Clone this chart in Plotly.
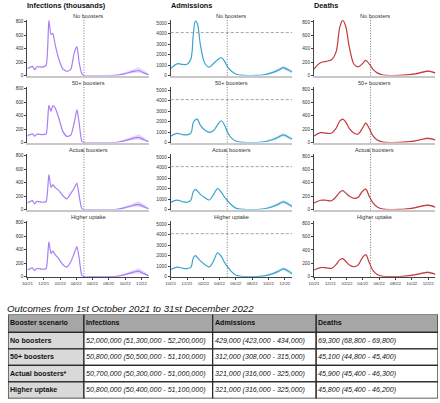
import plotly.graph_objects as go

W, H = 440, 403

# ---------------- data ----------------
scenarios = ["No boosters", "50+ boosters", "Actual boosters", "Higher uptake"]
measure_titles = ["Infections (thousands)", "Admissions", "Deaths"]
projection_start = "2022-04-30"
admissions_capacity = 4100

x_tickvals = ["2021-10-01", "2021-12-01", "2022-02-01", "2022-04-01",
              "2022-06-01", "2022-08-01", "2022-10-01", "2022-12-01"]
x_ticktext = ["10/21", "12/21", "02/22", "04/22", "06/22", "08/22", "10/22", "12/22"]
x_range = ["2021-10-01", "2022-12-28"]

inf_dates = ["2021-10-01", "2021-10-20", "2021-10-28", "2021-11-05", "2021-11-25", "2021-12-10",
             "2021-12-20", "2021-12-28", "2022-01-04", "2022-01-12", "2022-01-25", "2022-02-10",
             "2022-02-25", "2022-03-12", "2022-03-25", "2022-04-04", "2022-04-12", "2022-04-22",
             "2022-04-30", "2022-06-01", "2022-08-01", "2022-09-01", "2022-10-01", "2022-11-01",
             "2022-11-20", "2022-12-10", "2022-12-28"]
inf_none = [102, 136, 88, 130, 125, 150, 820, 610, 625, 470, 260, 100, 62, 90, 340, 430, 200, 30, 0,
            0, 0, 5, 28, 62, 75, 40, 12]
inf_50 = [100, 128, 95, 125, 118, 130, 551, 465, 545, 520, 380, 170, 92, 110, 300, 490, 300, 20, 0,
          0, 0, 5, 28, 65, 78, 42, 12]
inf_actual = [99, 133, 84, 123, 109, 120, 519, 331, 370, 330, 290, 210, 160, 240, 320, 395, 210, 15, 0,
              0, 0, 5, 30, 65, 78, 42, 12]
inf_higher = [98, 130, 90, 120, 110, 120, 515, 343, 378, 330, 270, 180, 140, 220, 350, 445, 280, 20, 0,
              0, 0, 5, 30, 68, 82, 45, 12]
inf_band_dates = ["2022-08-01", "2022-09-01", "2022-10-01", "2022-11-01", "2022-11-20", "2022-12-10", "2022-12-28"]
inf_band_lo = [0, 2, 14, 38, 45, 22, 5]
inf_band_hi = [1, 12, 50, 100, 125, 80, 25]

adm_dates = ["2021-10-01", "2021-10-25", "2021-11-15", "2021-12-01", "2021-12-15", "2021-12-24",
             "2022-01-01", "2022-01-08", "2022-01-20", "2022-02-05", "2022-02-22", "2022-03-10",
             "2022-03-25", "2022-04-08", "2022-04-20", "2022-05-01", "2022-05-15", "2022-06-01",
             "2022-06-20", "2022-07-15", "2022-08-15", "2022-09-15", "2022-10-15", "2022-11-05",
             "2022-11-25", "2022-12-12", "2022-12-28"]
adm_none = [660, 1120, 1060, 1080, 1550, 3800, 5200, 5000, 2900, 1200, 800, 1150, 1500, 1700, 1350,
            850, 430, 150, 35, 5, 10, 80, 280, 490, 750, 570, 360]
adm_50 = [630, 880, 760, 740, 900, 1900, 2180, 2240, 1650, 1200, 980, 1150, 1700, 2080, 1650,
          1000, 450, 150, 35, 5, 10, 80, 270, 480, 740, 560, 340]
adm_actual = [690, 900, 750, 700, 900, 1700, 1930, 1800, 1450, 1150, 920, 1450, 2000, 1650, 1200,
              860, 460, 140, 40, 5, 10, 80, 270, 480, 740, 560, 300]
adm_higher = [680, 900, 800, 770, 880, 1750, 2000, 1850, 1500, 1150, 930, 1500, 2280, 1900, 1350,
              960, 500, 150, 40, 5, 10, 80, 270, 480, 740, 560, 280]
adm_band_dates = ["2022-08-15", "2022-09-15", "2022-10-15", "2022-11-05", "2022-11-25", "2022-12-12", "2022-12-28"]
adm_band_lo = [0, 40, 180, 360, 600, 430, 200]
adm_band_hi = [30, 130, 380, 620, 900, 710, 430]

dth_dates = ["2021-10-01", "2021-10-25", "2021-11-15", "2021-12-05", "2021-12-22", "2022-01-05",
             "2022-01-16", "2022-01-27", "2022-02-10", "2022-02-28", "2022-03-15", "2022-03-30",
             "2022-04-12", "2022-04-25", "2022-05-10", "2022-05-25", "2022-06-15", "2022-07-15",
             "2022-08-15", "2022-09-15", "2022-10-15", "2022-11-10", "2022-11-28", "2022-12-15",
             "2022-12-28"]
dth_none = [98, 190, 212, 235, 350, 720, 825, 740, 420, 165, 130, 175, 226, 175, 88, 40, 8, 0,
            2, 10, 25, 50, 65, 55, 40]
dth_50 = [100, 148, 140, 140, 210, 320, 350, 310, 210, 140, 128, 210, 290, 210, 95, 38, 8, 0,
          2, 10, 25, 50, 62, 55, 40]
dth_actual = [99, 140, 140, 132, 190, 260, 282, 250, 200, 168, 185, 270, 305, 200, 95, 40, 8, 0,
              2, 12, 30, 55, 68, 55, 35]
dth_higher = [98, 135, 132, 124, 180, 250, 270, 230, 175, 148, 175, 280, 328, 210, 85, 32, 6, 0,
              2, 12, 30, 52, 64, 52, 35]
dth_band_dates = ["2022-08-15", "2022-09-15", "2022-10-15", "2022-11-10", "2022-11-28", "2022-12-15", "2022-12-28"]
dth_band_lo = [0, 6, 20, 42, 55, 44, 26]
dth_band_hi = [4, 16, 38, 62, 80, 68, 48]

# table data
table_title = "Outcomes from 1st October 2021 to 31st December 2022"
table_header = ["Booster scenario", "Infections", "Admissions", "Deaths"]
table_scenarios = ["No boosters", "50+ boosters", "Actual boosters*", "Higher uptake"]
table_infections = ["52,000,000 (51,300,000 - 52,200,000)", "50,800,000 (50,500,000 - 51,100,000)",
                    "50,700,000 (50,300,000 - 51,000,000)", "50,800,000 (50,400,000 - 51,100,000)"]
table_admissions = ["429,000 (423,000 - 434,000)", "312,000 (308,000 - 315,000)",
                    "321,000 (316,000 - 325,000)", "321,000 (316,000 - 325,000)"]
table_deaths = ["69,300 (68,800 - 69,800)", "45,100 (44,800 - 45,400)",
                "45,900 (45,400 - 46,300)", "45,800 (45,400 - 46,200)"]

# ---------------- styling / layout constants ----------------
FONT = "Liberation Sans, Arial, Helvetica, sans-serif"
TXT = "#333333"
col_left = [21.7, 167.0, 312.3]
col_w = 123.0
row_top = [19.5, 87.2, 154.9, 222.6]
row_h = 55.8

measures = [
    dict(dates=inf_dates, series=[inf_none, inf_50, inf_actual, inf_higher],
         bd=inf_band_dates, lo=inf_band_lo, hi=inf_band_hi,
         color="#a77ef4", fill="rgba(167,126,244,0.30)", yr=[0, 820],
         tv=[0, 200, 400, 600, 800], cap=None, smooth=0.5),
    dict(dates=adm_dates, series=[adm_none, adm_50, adm_actual, adm_higher],
         bd=adm_band_dates, lo=adm_band_lo, hi=adm_band_hi,
         color="#3aa3cf", fill="rgba(58,163,207,0.30)", yr=[0, 5270],
         tv=[0, 1000, 2000, 3000, 4000, 5000], cap=admissions_capacity, smooth=1.0),
    dict(dates=dth_dates, series=[dth_none, dth_50, dth_actual, dth_higher],
         bd=dth_band_dates, lo=dth_band_lo, hi=dth_band_hi,
         color="#c23a3c", fill="rgba(194,58,60,0.30)", yr=[0, 825],
         tv=[0, 200, 400, 600, 800], cap=None, smooth=1.0),
]


def ax_id(k):
    return "" if k == 1 else str(k)


fig = go.Figure()
lay = {}
annotations = []
shapes = []

for r, scen in enumerate(scenarios):
    for c, m in enumerate(measures):
        k = r * 3 + c + 1
        s = ax_id(k)
        xa, ya = f"x{s}", f"y{s}"
        # uncertainty band
        fig.add_trace(go.Scatter(
            x=m["bd"] + m["bd"][::-1], y=m["hi"] + m["lo"][::-1],
            xaxis=xa, yaxis=ya, fill="toself", fillcolor=m["fill"],
            line=dict(width=0), mode="lines", hoverinfo="skip", showlegend=False))
        fig.add_trace(go.Scatter(
            x=m["dates"], y=m["series"][r], xaxis=xa, yaxis=ya, mode="lines",
            line=dict(color=m["color"], width=1.2, shape="spline", smoothing=m["smooth"]),
            showlegend=False, name=scen))
        bottom = r == len(scenarios) - 1
        lay[f"xaxis{s}"] = dict(
            domain=[col_left[c] / W, (col_left[c] + col_w) / W], anchor=ya,
            type="date", range=x_range, showgrid=False, zeroline=False,
            showline=True, linecolor="#444444" if bottom else "#c8c8c8",
            linewidth=1 if bottom else 1.6,
            tickvals=x_tickvals, ticktext=x_ticktext, showticklabels=bottom,
            ticks="outside" if bottom else "", ticklen=2, tickwidth=0.8, tickcolor="#444444",
            tickfont=dict(family=FONT, size=4.4, color=TXT), fixedrange=True)
        lay[f"yaxis{s}"] = dict(
            domain=[1 - (row_top[r] + row_h) / H, 1 - row_top[r] / H], anchor=xa,
            range=m["yr"], tickvals=m["tv"], showgrid=False, zeroline=False,
            showline=True, linecolor="#444444", linewidth=1,
            ticks="outside", ticklen=2, tickwidth=0.8, tickcolor="#444444",
            tickfont=dict(family=FONT, size=4.7, color=TXT), fixedrange=True)
        # projection start marker
        shapes.append(dict(type="line", xref=xa, yref=f"{ya} domain",
                           x0=projection_start, x1=projection_start, y0=0, y1=1.05,
                           line=dict(color="#555555", width=0.8, dash="1px,1.6px")))
        if m["cap"] is not None:
            shapes.append(dict(type="line", xref=f"{xa} domain", yref=ya,
                               x0=0, x1=1, y0=m["cap"], y1=m["cap"],
                               line=dict(color="#9a9a9a", width=0.9, dash="3px,2px")))
        annotations.append(dict(text=scen, xref="paper", yref="paper",
                                x=(col_left[c] + col_w / 2) / W, y=1 - (row_top[r] - 4.6) / H,
                                xanchor="center", yanchor="middle", showarrow=False,
                                font=dict(family=FONT, size=5.6, color=TXT)))

for c, t in enumerate(measure_titles):
    annotations.append(dict(text=f"<b>{t}</b>", xref="paper", yref="paper", align="left",
                            x=(col_left[c] - 2) / W, y=1 - 4.3 / H, xanchor="left", yanchor="middle",
                            showarrow=False, font=dict(family=FONT, size=7.3, color="#111111")))

# ---------------- table ----------------
annotations.append(dict(text=f"<i>{table_title}</i>", xref="paper", yref="paper", align="left",
                        x=-1.5 / W, y=1 - 310.2 / H, xanchor="left", yanchor="middle",
                        showarrow=False, font=dict(family=FONT, size=9.7, color="#111111")))

col_widths = [77, 130.5, 105, 123.5]
row_heights = [18, 16.7, 16.7, 16.7, 16.7]
tbl_left, tbl_top = 2.0, 316.6
tw, th = sum(col_widths), sum(row_heights)
lay["xaxis13"] = dict(domain=[tbl_left / W, (tbl_left + tw) / W], range=[0, tw], visible=False,
                      anchor="y13", fixedrange=True)
lay["yaxis13"] = dict(domain=[1 - (tbl_top + th) / H, 1 - tbl_top / H], range=[th, 0], visible=False,
                      anchor="x13", fixedrange=True)

columns = [table_scenarios, table_infections, table_admissions, table_deaths]
rows = [table_header] + [[columns[j][i] for j in range(4)] for i in range(len(table_scenarios))]
y_edge = 0.0
for i, row in enumerate(rows):
    x_edge = 0.0
    for j, val in enumerate(row):
        if i == 0:
            fillc, txt = "#a6a6a6", f"<b>{val}</b>"
        elif j == 0:
            fillc, txt = "#d9d9d9", f"<b>{val}</b>"
        else:
            fillc, txt = "#ffffff", f"<i>{val}</i>"
        shapes.append(dict(type="rect", xref="x13", yref="y13", x0=x_edge, x1=x_edge + col_widths[j],
                           y0=y_edge, y1=y_edge + row_heights[i], fillcolor=fillc,
                           line=dict(color="#2b2b2b", width=1.3), layer="below"))
        annotations.append(dict(text=txt, xref="x13", yref="y13", x=x_edge + 0.2, align="left",
                                y=y_edge + row_heights[i] / 2, xanchor="left", yanchor="middle",
                                showarrow=False, font=dict(family=FONT, size=7.1, color="#111111")))
        x_edge += col_widths[j]
    y_edge += row_heights[i]

fig.update_layout(width=W, height=H, autosize=False, margin=dict(l=0, r=0, t=0, b=0),
                  paper_bgcolor="white", plot_bgcolor="white", showlegend=False,
                  annotations=annotations, shapes=shapes, **lay)

fig.write_html("out.html", config={"displayModeBar": False},
               post_script="document.body.style.margin='0';document.body.style.overflow='hidden';")
